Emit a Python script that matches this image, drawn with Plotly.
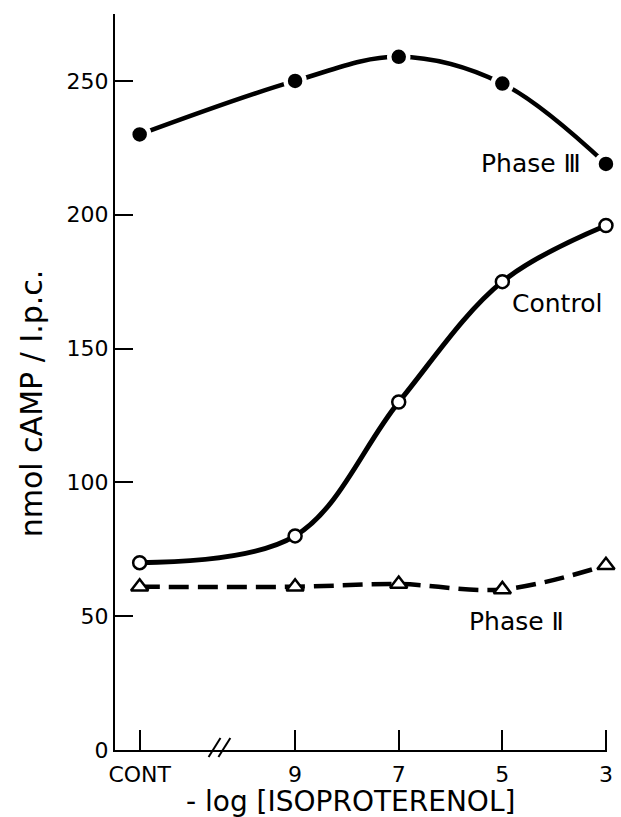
import plotly.graph_objects as go

# Data (x positions: CONT, then -log[ISO] = 9, 7, 5, 3)
x_labels = ["CONT", "9", "7", "5", "3"]
x_pos = [0, 3, 5, 7, 9]  # axis position of each category (axis is broken between CONT and 9)
phase3 = [230, 250, 259, 249, 219]
control = [70, 80, 130, 175, 196]
phase2 = [61, 61, 62, 60, 69]

y_ticks = [0, 50, 100, 150, 200, 250, 275]
y_ticktext = ["0", "50", "100", "150", "200", "250", ""]

FONT = "DejaVu Sans"
fig = go.Figure()

fig.add_trace(go.Scatter(
    x=x_pos, y=phase3, mode="lines+markers", name="Phase III",
    line=dict(color="black", width=4.5, shape="spline", smoothing=1.0),
    marker=dict(symbol="circle", size=19, color="black", line=dict(color="white", width=4.5)),
    cliponaxis=False,
))
fig.add_trace(go.Scatter(
    x=x_pos, y=control, mode="lines+markers", name="Control",
    line=dict(color="black", width=5, shape="spline", smoothing=1.0),
    marker=dict(symbol="circle", size=13, color="white", line=dict(color="black", width=2.5)),
    cliponaxis=False,
))
fig.add_trace(go.Scatter(
    x=x_pos, y=phase2, mode="lines+markers", name="Phase II",
    line=dict(color="black", width=4.5, shape="spline", smoothing=1.0, dash="20px,9px"),
    marker=dict(symbol="triangle-up", size=15, color="white", line=dict(color="black", width=2.5)),
    cliponaxis=False,
))

annotations = [
    dict(x=8.55, y=219, text="Phase Ⅲ", xanchor="right", yanchor="middle", showarrow=False,
         font=dict(size=25, family=FONT, color="black")),
    dict(x=7.15, y=167, text="Control", xanchor="left", yanchor="middle", showarrow=False,
         font=dict(size=25, family=FONT, color="black")),
    dict(x=8.23, y=48, text="Phase Ⅱ", xanchor="right", yanchor="middle", showarrow=False,
         font=dict(size=25, family=FONT, color="black")),
    dict(xref="paper", yref="paper", x=0, y=0.471, xshift=-84, text="nmol cAMP / I.p.c.",
         textangle=-90, xanchor="center", yanchor="middle", showarrow=False,
         font=dict(size=30, family=FONT, color="black")),
    dict(xref="paper", yref="paper", x=0.479, y=0, yshift=-51, text="- log [ISOPROTERENOL]",
         xanchor="center", yanchor="middle", showarrow=False,
         font=dict(size=28, family=FONT, color="black")),
]

# axis-break marks "//" between CONT and 9 (paper y so they can cross the axis line)
shapes = [
    dict(type="line", xref="x", yref="paper", x0=1.33, y0=-0.0095, x1=1.56, y1=0.0163,
         line=dict(color="black", width=2)),
    dict(type="line", xref="x", yref="paper", x0=1.52, y0=-0.0095, x1=1.75, y1=0.0163,
         line=dict(color="black", width=2)),
]

fig.update_layout(
    width=621, height=817,
    margin=dict(l=115, r=8, t=14, b=67),
    paper_bgcolor="white", plot_bgcolor="white",
    showlegend=False,
    font=dict(family=FONT, size=22, color="black"),
    annotations=annotations,
    shapes=shapes,
    xaxis=dict(
        range=[-0.476, 9.02], showgrid=False, zeroline=False,
        showline=True, linecolor="black", linewidth=2,
        tickmode="array", tickvals=x_pos, ticktext=x_labels,
        ticks="inside", ticklen=20, tickwidth=2, tickcolor="black",
        tickfont=dict(size=22, family=FONT), ticklabelstandoff=4,
    ),
    yaxis=dict(
        range=[0, 275], showgrid=False, zeroline=False,
        showline=True, linecolor="black", linewidth=2,
        tickmode="array", tickvals=y_ticks, ticktext=y_ticktext,
        ticks="inside", ticklen=18, tickwidth=2, tickcolor="black",
        tickfont=dict(size=22, family=FONT),
    ),
)

fig.write_html("out.html")
